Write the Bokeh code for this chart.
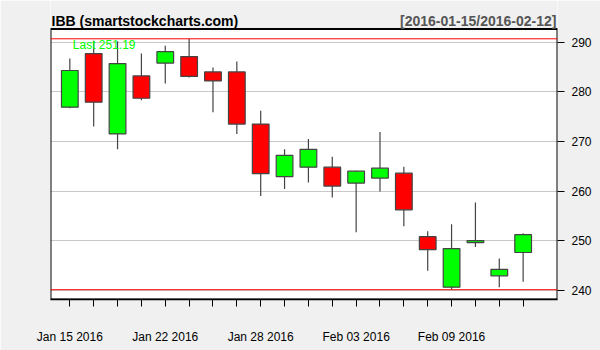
from bokeh.plotting import figure
from bokeh.models import Range1d, FixedTicker, Span, Label, ColumnDataSource, BoxAnnotation
from bokeh.embed import file_html
from bokeh.resources import INLINE

# ---- data ----
dates = ["2016-01-15", "2016-01-19", "2016-01-20", "2016-01-21", "2016-01-22",
         "2016-01-25", "2016-01-26", "2016-01-27", "2016-01-28", "2016-01-29",
         "2016-02-01", "2016-02-02", "2016-02-03", "2016-02-04", "2016-02-05",
         "2016-02-08", "2016-02-09", "2016-02-10", "2016-02-11", "2016-02-12"]
opens = [276.9, 287.7, 271.5, 283.2, 285.8, 287.1, 284.0, 284.0, 273.5, 262.9,
         264.8, 264.8, 261.6, 262.6, 263.6, 250.8, 240.6, 249.6, 242.9, 247.6]
highs = [286.7, 290.3, 290.2, 287.7, 289.3, 290.69, 284.9, 286.1, 276.2, 268.4,
         270.5, 266.9, 264.1, 271.9, 264.9, 251.9, 253.3, 257.7, 246.4, 251.5]
lows = [276.7, 273.0, 268.4, 278.3, 281.7, 282.9, 275.9, 271.5, 259.0, 260.4,
        261.7, 258.7, 251.7, 259.9, 252.9, 243.9, 240.1, 248.7, 240.6, 241.7]
closes = [284.3, 277.9, 285.7, 278.7, 288.1, 283.1, 282.2, 273.5, 263.5, 267.2,
          268.4, 261.0, 264.0, 264.6, 256.2, 248.2, 248.4, 250.0, 244.2, 251.19]
label_positions = [0, 4, 8, 12, 16]
tick_labels = ["Jan 15 2016", "Jan 22 2016", "Jan 28 2016", "Feb 03 2016", "Feb 09 2016"]
y_ticks = [240, 250, 260, 270, 280, 290]
title_text = "IBB (smartstockcharts.com)"
period_text = "[%s/%s]" % (dates[0], dates[-1])

FONT = "Liberation Sans"
UP, DOWN, EDGE = "#00ff00", "#ff0000", "#444444"
PAGE_BG = "#f0f0f0"

idx = list(range(len(dates)))
src = ColumnDataSource(dict(
    x=idx, high=highs, low=lows,
    top=[max(o, c) for o, c in zip(opens, closes)],
    bottom=[min(o, c) for o, c in zip(opens, closes)],
    color=[UP if c >= o else DOWN for o, c in zip(opens, closes)],
))

# visible price panel spans y_low..y_high; the frame also holds a header band above it
x_range = Range1d(-0.81, 20.44)
y_low, y_high = 238.125, 292.66
y_range = Range1d(y_low, 298.41)

p = figure(width=600, height=350, x_range=x_range, y_range=y_range,
           output_backend="svg", toolbar_location=None, y_axis_location="right",
           min_border_left=50, min_border_right=43, min_border_top=0, min_border_bottom=51)

p.border_fill_color = PAGE_BG
p.background_fill_color = "white"
p.outline_line_color = None

p.xgrid.visible = False
p.ygrid.grid_line_color = "#c8c8c8"
p.ygrid.grid_line_width = 1

# bottom axis
xa = p.xaxis[0]
xa.ticker = FixedTicker(ticks=idx)
overrides = {i: "" for i in idx}
for pos, lab in zip(label_positions, tick_labels):
    overrides[pos] = lab
xa.major_label_overrides = overrides
xa.major_tick_out = 7
xa.major_tick_in = 0
xa.minor_tick_out = 0
xa.minor_tick_in = 0
xa.major_label_standoff = 23
xa.major_label_text_font = FONT
xa.major_label_text_font_size = "12px"
xa.major_label_text_color = "black"
xa.axis_line_color = "black"
xa.axis_line_width = 1.5
xa.major_tick_line_color = "black"

# right axis
ya = p.yaxis[0]
ya.ticker = FixedTicker(ticks=y_ticks)
ya.major_tick_out = 7
ya.major_tick_in = 0
ya.minor_tick_out = 0
ya.minor_tick_in = 0
ya.major_label_standoff = 7
ya.major_label_text_font = FONT
ya.major_label_text_font_size = "12px"
ya.major_label_text_color = "black"
ya.axis_line_color = None
ya.major_tick_line_color = "black"
p.ygrid.ticker = FixedTicker(ticks=y_ticks)

# header band (page background) above the price panel
p.add_layout(BoxAnnotation(bottom=y_high, fill_color=PAGE_BG, fill_alpha=1.0, line_color=None))
# price panel border
p.add_layout(BoxAnnotation(bottom=y_low, top=y_high, fill_color=None, fill_alpha=0,
                           line_color="black", line_width=2, line_alpha=1.0))

# high / low reference lines
p.add_layout(Span(location=max(highs), dimension="width", line_color="red", line_width=1))
p.add_layout(Span(location=min(lows), dimension="width", line_color="red", line_width=1))

# candles
p.segment(x0="x", y0="low", x1="x", y1="high", source=src, line_color=EDGE, line_width=1.2)
p.vbar(x="x", top="top", bottom="bottom", width=0.7, source=src,
       fill_color="color", line_color=EDGE, line_width=1.2)

# texts
p.add_layout(Label(x=idx[0], y=max(highs), x_offset=3, y_offset=1, text="Last %.2f" % closes[-1],
                   text_baseline="top", text_align="left", text_font=FONT,
                   text_font_size="12px", text_color="#00ff00"))
p.add_layout(Label(x=x_range.start, y=y_high, x_offset=1, y_offset=8, text=title_text,
                   text_baseline="alphabetic", text_align="left", text_font=FONT,
                   text_font_size="14px", text_font_style="bold", text_color="black"))
p.add_layout(Label(x=x_range.end, y=y_high, x_offset=-1, y_offset=8, text=period_text,
                   text_baseline="alphabetic", text_align="right", text_font=FONT,
                   text_font_size="14px", text_font_style="bold", text_color="#555555"))

open("out.html", "w").write(file_html(p, INLINE))
